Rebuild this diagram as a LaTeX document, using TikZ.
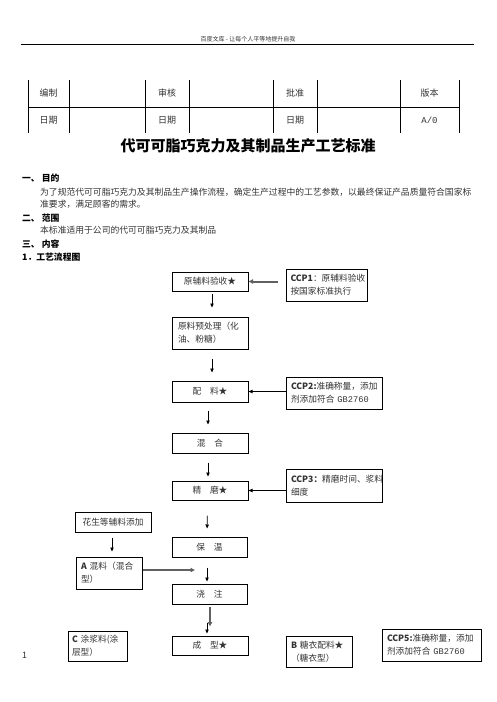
\documentclass[tikz,border=0pt]{standalone}
\usepackage{fontspec}
\setmainfont{Noto Sans CJK SC}
\newfontfamily\monofont{Liberation Mono}
\usetikzlibrary{arrows.meta}
\newcommand\boxfont{\fontsize{8.7}{13}\selectfont}
\newcommand\bodyfont{\fontsize{8.8}{12}\selectfont}
\begin{document}
\begin{tikzpicture}[x=1pt,y=-1pt,
  box/.style={draw, line width=1pt, inner sep=0pt, font=\boxfont, text=black!80},
  twoline/.style={box, align=left},
  plain/.style={inner sep=0pt, text=black!80},
  arr/.style={-{Triangle[length=4pt,width=3.4pt]}, line width=0.7pt},
  garr/.style={-{Triangle[length=4.5pt,width=4.2pt, fill=black!80]}, line width=2pt, draw=black!62},
  tline/.style={line width=0.9pt}]
\useasboundingbox (0,0) rectangle (496,702);
% header
\node[plain, font=\fontsize{6}{7}\selectfont] (hdr) at (248,39.5) {百度文库 - 让每个人平等地提升自我};
\coordinate (hl) at (21,44);
\coordinate (hr) at (474,44);
\draw[line width=1pt] (hl) -- (hr);
% table
\foreach \x in {28,69,145,189,273,317,400,459} \draw[tline] (\x,80) -- (\x,133);
\draw[tline] (28,107) -- (459,107);
\begin{scope}[every node/.style={plain, font=\fontsize{9}{10}\selectfont}]
\node (t1) at (48.5,93) {编制};
\node (t2) at (167,93) {审核};
\node (t3) at (295,93) {批准};
\node (t4) at (429.5,93) {版本};
\node (t5) at (48.5,120) {日期};
\node (t6) at (167,120) {日期};
\node (t7) at (295,120) {日期};
\node (t8) at (429.5,120) {\monofont A/0};
\end{scope}
% title
\node[inner sep=0pt, font=\fontsize{15}{16}\selectfont\bfseries] (title) at (248,146) {代可可脂巧克力及其制品生产工艺标准};
% sections
\begin{scope}[every node/.style={plain, anchor=west, font=\bodyfont}]
\node[text=black] (s1) at (22,178) {\textbf{一、 目的}};
\node (p1) at (40,192) {为了规范代可可脂巧克力及其制品生产操作流程，确定生产过程中的工艺参数，以最终保证产品质量符合国家标};
\node (p2) at (40,204) {准要求，满足顾客的需求。};
\node[text=black] (s2) at (22,218) {\textbf{二、 范围}};
\node (p3) at (40,230.5) {本标准适用于公司的代可可脂巧克力及其制品};
\node[text=black] (s3) at (22,244) {\textbf{三、 内容}};
\node[text=black] (s4) at (22,257) {\textbf{1．工艺流程图}};
\node (pg) at (22,655) {1};
\end{scope}
% flowchart boxes
\node[box, minimum width=76pt, minimum height=19pt] (b1) at (210,281.5) {原辅料验收★};
\node[twoline, minimum width=81pt, minimum height=32pt, text width=72pt] (ccp1) at (326.5,285) {\textbf{CCP1}：原辅料验收\\按国家标准执行};
\node[twoline, minimum width=76pt, minimum height=32pt, text width=64pt] (b2) at (210,333) {原料预处理（化\\油、粉糖）};
\node[box, minimum width=76pt, minimum height=21pt] (b3) at (210,391.5) {配\quad 料★};
\node[twoline, minimum width=96pt, minimum height=32pt, text width=86pt] (ccp2) at (334,393) {\textbf{CCP2:}准确称量，添加\\剂添加符合 {\monofont GB2760}};
\node[box, minimum width=76pt, minimum height=20pt] (b4) at (210,443) {混\quad 合};
\node[box, minimum width=76pt, minimum height=19pt] (b5) at (210,490.5) {精\quad 磨★};
\node[twoline, minimum width=96pt, minimum height=33pt, text width=86pt] (ccp3) at (334,485.5) {\textbf{CCP3：}精磨时间、浆料\\细度};
\node[box, minimum width=76pt, minimum height=20pt] (h) at (113,522) {花生等辅料添加};
\node[box, minimum width=75pt, minimum height=20pt] (b6) at (209.5,547) {保\quad 温};
\node[twoline, minimum width=66pt, minimum height=32pt, text width=56pt] (a) at (109,573) {\textbf{A} 混料（混合\\型）};
\node[box, minimum width=75pt, minimum height=20pt] (b7) at (209.5,594) {浇\quad 注};
\node[box, minimum width=76pt, minimum height=19pt] (b8) at (210,645.5) {成\quad 型★};
\node[twoline, minimum width=59pt, minimum height=30pt, text width=51pt] (c) at (97.5,646) {\textbf{C} 涂浆料(涂\\层型）};
\node[twoline, minimum width=66pt, minimum height=31pt, text width=56pt] (bb) at (319,651.5) {\textbf{B} 糖衣配料★\\（糖衣型）};
\node[twoline, minimum width=99pt, minimum height=32pt, text width=89pt] (ccp5) at (431.5,645) {\textbf{CCP5:}准确称量，添加\\剂添加符合 {\monofont GB2760}};
% connectors
\draw[garr, shorten <=8pt] (ccp1.west |- b1.east) -- (b1.east);
\draw[arr, shorten <=2pt, shorten >=9pt] ([xshift=2pt]b1.south) -- ([xshift=2pt]b2.north);
\draw[arr, shorten <=9pt, shorten >=8pt] ([xshift=2pt]b2.south) -- ([xshift=2pt]b3.north);
\draw[arr] (ccp2.west |- b3.east) -- (b3.east);
\draw[arr, shorten <=8pt, shorten >=8pt] ([xshift=-2pt]b3.south) -- ([xshift=-2pt]b4.north);
\draw[arr, shorten <=9pt, shorten >=4pt] ([xshift=-2pt]b4.south) -- ([xshift=-2pt]b5.north);
\draw[arr] (ccp3.west |- b5.east) -- (b5.east);
\draw[arr, shorten <=15pt, shorten >=8pt] ([xshift=-2.5pt]b5.south) -- ([xshift=-2.5pt]b6.north);
\draw[arr, shorten <=5pt, shorten >=5pt] ([xshift=-1pt]h.south) -- ([xshift=3pt]a.north);
\coordinate (amid) at (195,570);
\draw[garr] (a.east |- amid) -- (amid);
\draw[arr, shorten <=10pt, shorten >=2pt] ([xshift=-2.5pt]b6.south) -- ([xshift=-2.5pt]b7.north);
\draw[garr, shorten <=2pt, shorten >=9pt] ([xshift=0.5pt]b7.south) -- ([xshift=0pt]b8.north);
\draw[arr, shorten <=18pt, shorten >=2pt] ([xshift=-2.5pt]b7.south) -- ([xshift=-3pt]b8.north);
\end{tikzpicture}
\end{document}
